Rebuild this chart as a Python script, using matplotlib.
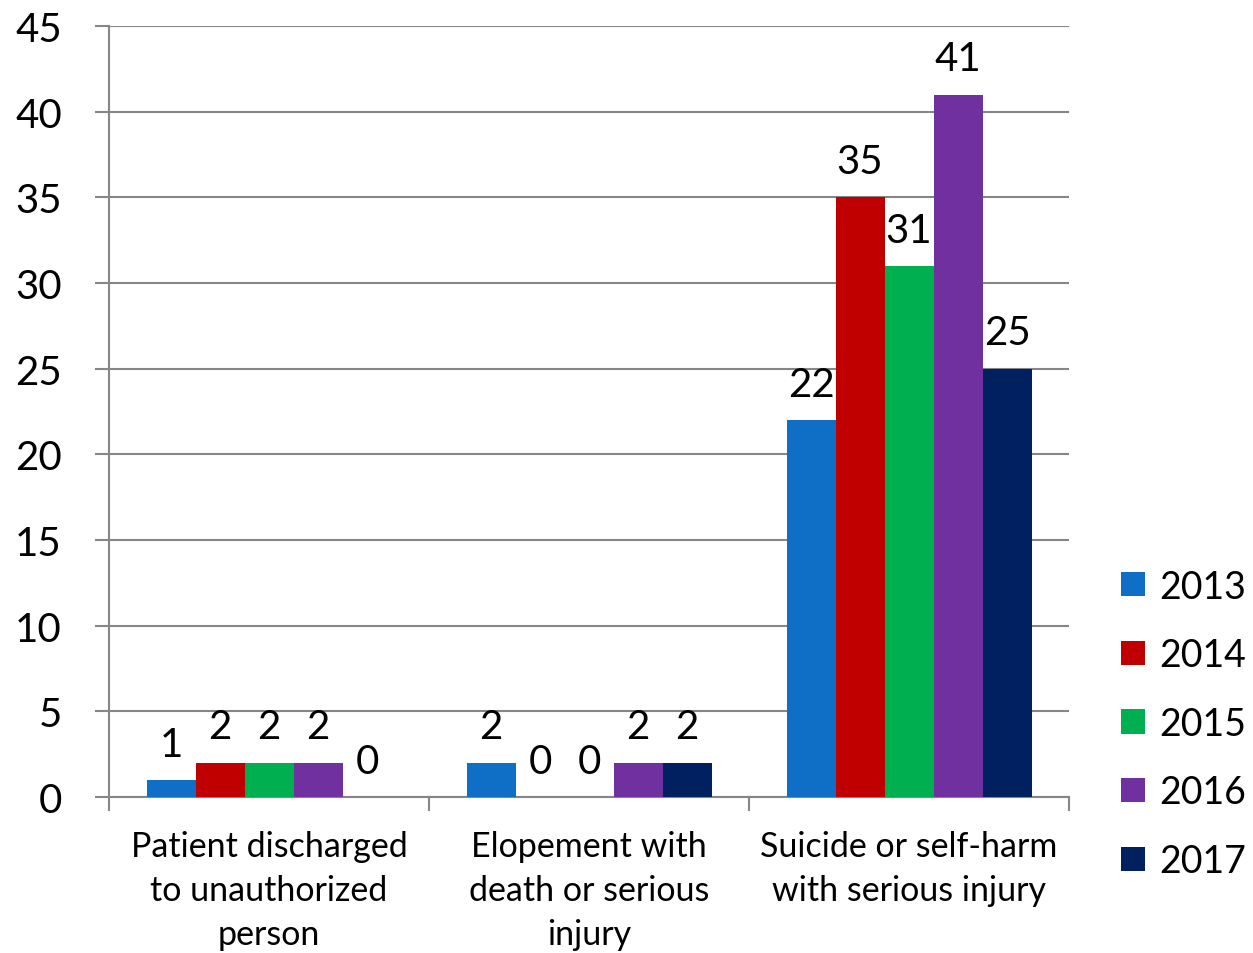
import matplotlib.pyplot as plt
import numpy as np

# data
categories = ["Patient discharged\nto unauthorized\nperson",
              "Elopement with\ndeath or serious\ninjury",
              "Suicide or self-harm\nwith serious injury"]
years = ["2013", "2014", "2015", "2016", "2017"]
values_2013 = [1, 2, 22]
values_2014 = [2, 0, 35]
values_2015 = [2, 0, 31]
values_2016 = [2, 2, 41]
values_2017 = [0, 2, 25]
colors = ["#0F6FC6", "#C00000", "#00B050", "#7030A0", "#002060"]

series = [values_2013, values_2014, values_2015, values_2016, values_2017]

plt.rcParams['font.family'] = ['Lato', 'DejaVu Sans']

fig = plt.figure(figsize=(12.53, 9.54), dpi=100)
ax = fig.add_axes([109 / 1253, 1 - 798 / 954, 960 / 1253, 771 / 954])

x = np.arange(len(categories))
width = 49 / 320
grid_col = "#868686"

for i, (vals, col, yr) in enumerate(zip(series, colors, years)):
    pos = x + (i - 2) * width
    ax.bar(pos, vals, width, color=col, label=yr, zorder=3)
    # value labels
    for p, v in zip(pos, vals):
        ax.annotate(str(v), (p, v), xytext=(0, 12.5), textcoords="offset points",
                    ha="center", va="bottom", fontsize=29, zorder=4)

ax.set_xlim(-0.5, 2.5)
ax.set_ylim(0, 45)
ax.set_yticks(range(0, 46, 5))
ax.tick_params(axis="y", labelsize=29, length=10, width=1.5, color=grid_col, pad=24)
ax.yaxis.grid(True, color=grid_col, linewidth=1.5, zorder=0)

ax.set_xticks(x)
ax.set_xticklabels(categories, fontsize=24.5, linespacing=1.46)
ax.tick_params(axis="x", which="major", length=0, pad=24)
ax.set_xticks([-0.5, 0.5, 1.5, 2.5], minor=True)
ax.tick_params(axis="x", which="minor", length=10, width=1.5, color=grid_col)

for s in ["top", "right"]:
    ax.spines[s].set_visible(False)
for s in ["left", "bottom"]:
    ax.spines[s].set_color(grid_col)
    ax.spines[s].set_linewidth(1.5)

ax.legend(loc="center left", bbox_to_anchor=(1.035, 0.095), frameon=False,
          fontsize=27, handlelength=0.62, handleheight=0.62, labelspacing=0.87,
          handletextpad=0.4, borderpad=0)

fig.savefig("out.png", dpi=100)
